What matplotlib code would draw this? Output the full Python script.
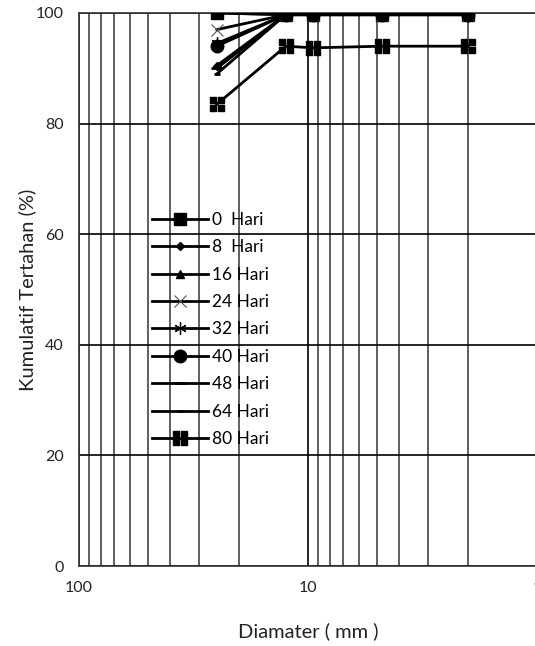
import numpy as np
import matplotlib
matplotlib.use("Agg")
import matplotlib.pyplot as plt
from matplotlib.path import Path
from matplotlib.ticker import FixedLocator, NullFormatter, FixedFormatter

plt.rcParams['font.family'] = ['Lato', 'DejaVu Sans']

# sieve sizes (mm) and cumulative retained (%)
diameter = [25, 12.5, 9.5, 4.75, 2]
labels = ["0  Hari", "8  Hari", "16 Hari", "24 Hari", "32 Hari",
          "40 Hari", "48 Hari", "64 Hari", "80 Hari"]
hari_0 = [100, 99.7, 99.7, 99.7, 99.7]
hari_8 = [90.5, 99.7, 99.7, 99.7, 99.7]
hari_16 = [100, 99.7, 99.7, 99.7, 99.7]
hari_24 = [97, 99.7, 99.7, 99.7, 99.7]
hari_32 = [94.5, 99.7, 99.7, 99.7, 99.7]
hari_40 = [94, 99.7, 99.7, 99.7, 99.7]
hari_48 = [90, 99.7, 99.7, 99.7, 99.7]
hari_64 = [89, 99.7, 99.7, 99.7, 99.7]
hari_80 = [83.5, 94.0, 93.7, 94.0, 94.0]


def split_square():
    # filled square cut by a white cross
    g = 0.13
    verts, codes = [], []
    for x0, y0 in [(-1, -1), (g, -1), (-1, g), (g, g)]:
        w = 1 - g
        verts += [(x0, y0), (x0 + w, y0), (x0 + w, y0 + w), (x0, y0 + w), (x0, y0)]
        codes += [Path.MOVETO, Path.LINETO, Path.LINETO, Path.LINETO, Path.CLOSEPOLY]
    return Path(verts, codes)


fig = plt.figure(figsize=(5.35, 6.46), dpi=100)
ax = fig.add_axes([79 / 535, 80 / 646, 458 / 535, 553 / 646])

series = [
    (hari_0, dict(marker='s', ms=9)),
    (hari_8, dict(marker='D', ms=4.5)),
    (hari_16, dict(marker='^', ms=6)),
    (hari_24, dict(marker='x', ms=9, mew=0.8, mec='#555555')),
    (hari_32, dict(marker=(6, 2, 0), ms=9, mew=0.9)),
    (hari_40, dict(marker='o', ms=9)),
    (hari_48, dict(marker='_', ms=9, mew=2)),
    (hari_64, dict(marker='_', ms=5, mew=2)),
    (hari_80, dict(marker=split_square(), ms=10.5)),
]

for (vals, style), lab in zip(series, labels):
    ax.plot(diameter, vals, color='black', lw=2, mfc='black',
            mec=style.pop('mec', 'black'), label=lab, zorder=3, **style)

ax.set_xscale('log')
ax.set_xlim(100, 1)
ax.set_ylim(0, 100)

ax.xaxis.set_major_locator(FixedLocator([100, 10, 1]))
ax.xaxis.set_major_formatter(FixedFormatter(["100", "10", "1"]))
minor = [m * d for d in (1, 10) for m in range(2, 10)]
ax.xaxis.set_minor_locator(FixedLocator(minor))
ax.xaxis.set_minor_formatter(NullFormatter())
ax.set_yticks([0, 20, 40, 60, 80, 100])

ax.grid(True, which='major', axis='both', color='black', lw=1.2)
ax.grid(True, which='minor', axis='x', color='#444444', lw=1.2)
ax.set_axisbelow(True)
ax.tick_params(which='both', length=0, labelsize=11.5, colors='#222222')
ax.tick_params(axis='x', pad=11)
ax.tick_params(axis='y', pad=11)
for s in ax.spines.values():
    s.set_color('#333333')
    s.set_linewidth(1.2)

ax.set_xlabel("Diamater ( mm )", fontsize=14.5, color='#222222')
ax.set_ylabel("Kumulatif Tertahan (%)", fontsize=14.5, color='#222222')
ax.xaxis.set_label_coords(0.5, -0.101)
ax.yaxis.set_label_coords(-0.094, 0.5)

ax.legend(loc='upper left', bbox_to_anchor=(152 / 535, 1 - 212 / 646),
          bbox_transform=fig.transFigure, frameon=False, fontsize=12.5,
          handlelength=3.2, handletextpad=0.23, labelspacing=0.655,
          borderpad=0, borderaxespad=0)

fig.savefig("out.png", dpi=100)
